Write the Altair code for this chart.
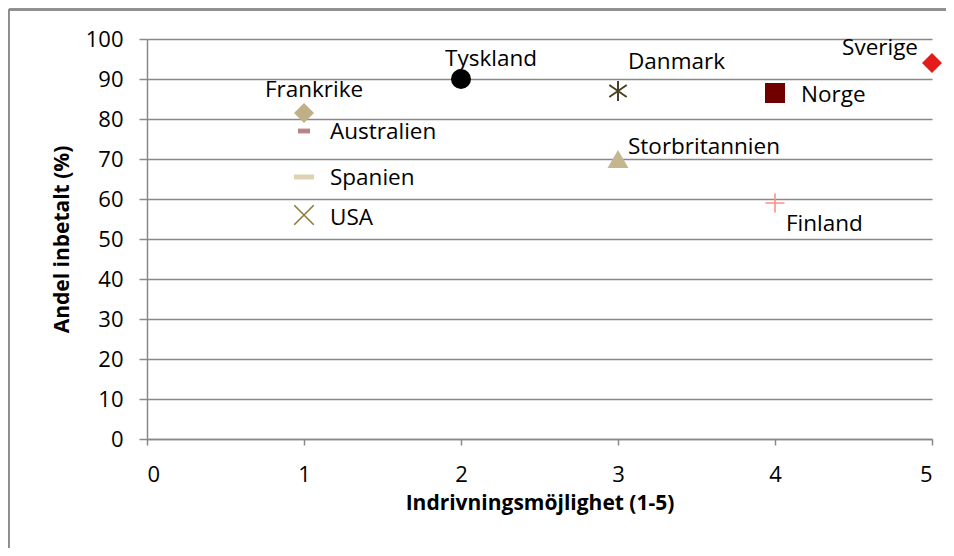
import altair as alt
import pandas as pd

countries = ["Frankrike", "Australien", "Spanien", "USA", "Tyskland",
             "Danmark", "Storbritannien", "Norge", "Finland", "Sverige"]
x_vals = [1, 1, 1, 1, 2, 3, 3, 4, 4, 5]
y_vals = [81.5, 77, 65.5, 56, 90, 87, 70, 86.5, 59, 94]

x_ticks = [0, 1, 2, 3, 4, 5]
y_ticks = [0, 10, 20, 30, 40, 50, 60, 70, 80, 90, 100]

df = pd.DataFrame({"land": countries, "x": x_vals, "y": y_vals})

FONT = "Open Sans"
GRID = "#888888"

# marker styles (shape, colour, size, filled, strokeWidth)
ASTERISK = "M0,-1L0,1M-0.87,-0.6L0.87,0.6M-0.87,0.6L0.87,-0.6"
XMARK = "M-1,-1L1,1M-1,1L1,-1"
PLUS = "M-1,0L1,0M0,-1L0,1"
DASH_S = "M-1,-0.4L1,-0.4L1,0.4L-1,0.4Z"
DASH_L = "M-1,-0.25L1,-0.25L1,0.25L-1,0.25Z"
marker = {
    "Frankrike": ("diamond", "#bfb088", 400, True, 0),
    "Australien": (DASH_S, "#b98484", 144, True, 0),
    "Spanien": (DASH_L, "#ddd3b2", 400, True, 0),
    "USA": (XMARK, "#8b7b3e", 380, False, 1.6),
    "Tyskland": ("circle", "#000000", 400, True, 0),
    "Danmark": (ASTERISK, "#4b4022", 400, False, 2),
    "Storbritannien": ("triangle-up", "#c4b78f", 441, True, 0),
    "Norge": ("square", "#700000", 400, True, 0),
    "Finland": (PLUS, "#ff8c8c", 361, False, 1.6),
    "Sverige": ("diamond", "#e31b1b", 400, True, 0),
}
# label placement (dx, dy, align)
label = {
    "Frankrike": (10, -23, "center"),
    "Australien": (26, 1, "left"),
    "Spanien": (26, 1, "left"),
    "USA": (26, 3, "left"),
    "Tyskland": (30, -20, "center"),
    "Danmark": (10, -29, "left"),
    "Storbritannien": (10, -12, "left"),
    "Norge": (26, 2, "left"),
    "Finland": (11, 21, "left"),
    "Sverige": (-14, -15, "right"),
}

xenc = alt.X("x:Q", scale=alt.Scale(domain=[0, 5], nice=False),
             axis=alt.Axis(values=x_ticks, title="Indrivningsmöjlighet (1-5)",
                           grid=False, format="d"))
yenc = alt.Y("y:Q", scale=alt.Scale(domain=[0, 100], nice=False),
             axis=alt.Axis(values=y_ticks, title="Andel inbetalt (%)",
                           grid=True, format="d"))

layers = []
for c in countries:
    shape, color, size, filled, sw = marker[c]
    sub = df[df["land"] == c]
    kw = dict(shape=shape, size=size, opacity=1)
    if filled:
        kw.update(filled=True, fill=color, strokeWidth=0)
    else:
        kw.update(filled=False, stroke=color, strokeWidth=sw)
    layers.append(alt.Chart(sub).mark_point(**kw).encode(x=xenc, y=yenc))
    dx, dy, al = label[c]
    layers.append(alt.Chart(sub).mark_text(
        dx=dx, dy=dy, align=al, baseline="middle", font=FONT, fontSize=22.5,
        color="#000000").encode(x=xenc, y=yenc, text="land:N"))

frame_top = alt.Chart(df).mark_rule(color="#8c8c8c", strokeWidth=1.5).encode(
    x=alt.value(-138), x2=alt.value(800), y=alt.value(-29.5))
frame_left = alt.Chart(df).mark_rule(color="#8c8c8c", strokeWidth=1.5).encode(
    x=alt.value(-138.5), y=alt.value(-29.5), y2=alt.value(510))

chart = alt.layer(frame_top, frame_left, *layers).properties(
    width=785, height=400,
    autosize=alt.AutoSizeParams(type="none"),
    padding={"left": 139, "top": 31, "right": 14, "bottom": 109},
).configure_view(stroke=None).configure_axis(
    labelFont=FONT, labelFontSize=22, labelColor="#000000",
    titleFont=FONT, titleFontSize=21, titleFontWeight="bold", titleColor="#000000",
    domainColor=GRID, domainWidth=1.5, tickColor=GRID, tickWidth=1.5,
    gridColor=GRID, gridWidth=1.5,
).configure_axisY(
    tickSize=8, labelPadding=16, titlePadding=13,
).configure_axisX(
    tickSize=6, labelPadding=19, titlePadding=7,
)

chart.save("out.html", embed_options={"renderer": "svg", "actions": False})
